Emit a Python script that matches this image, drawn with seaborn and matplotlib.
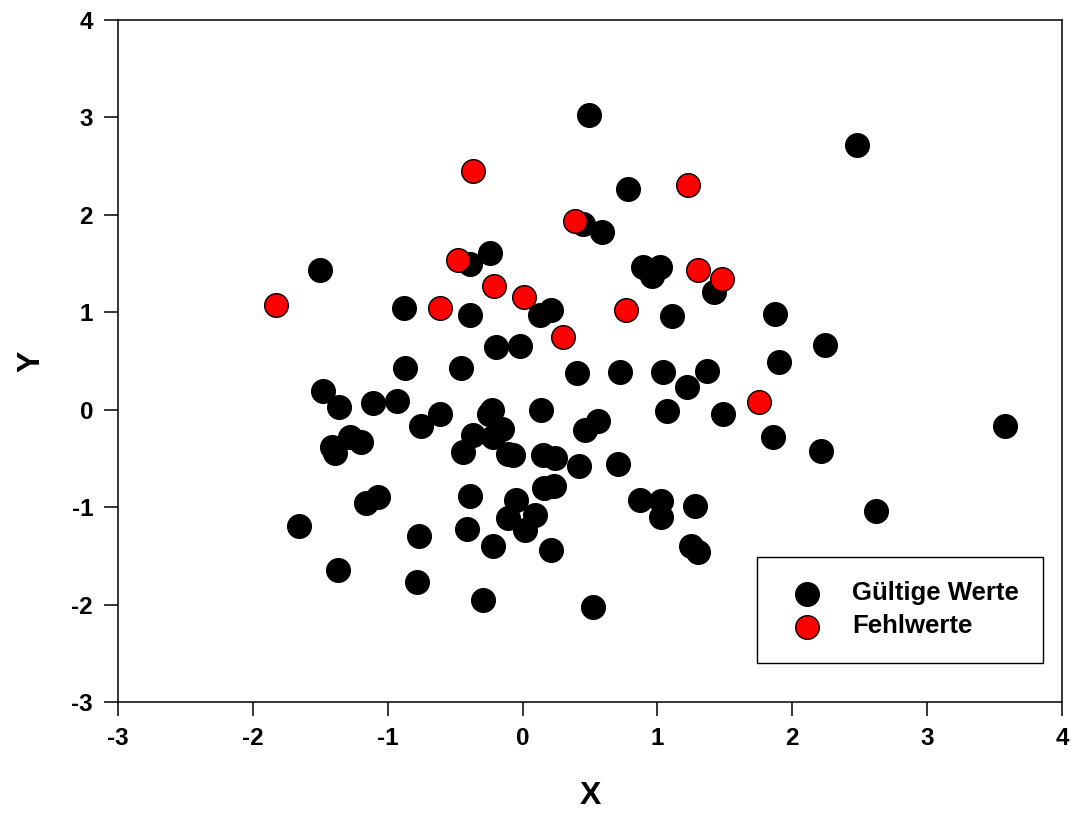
import pandas as pd
import matplotlib
matplotlib.use("Agg")
import matplotlib.pyplot as plt
import seaborn as sns

# valid values (black)
valid_x = [0.49, 2.48, 0.78, 0.45, 0.59, -0.24, -0.39, -1.50, 0.89, 1.02,
           0.96, 1.42, -0.88, -0.39, 0.13, 0.21, 1.11, 1.87, -0.20, -0.02,
           2.24, -0.87, -0.46, 0.40, 0.72, 1.04, 1.37, 1.90, 1.22, -1.48,
           -1.36, -1.11, -0.93, -0.61, -0.75, -0.25, -0.23, 0.14, 1.07, 1.49,
           0.56, 0.46, 3.58, -0.37, -0.15, -0.22, -1.41, -1.39, -1.28, -1.20,
           -0.44, -0.11, -0.07, 0.15, 0.24, 0.42, 0.71, 1.86, 2.21, 0.16,
           0.23, -1.16, -1.07, -0.39, -0.05, 0.87, 1.03, 1.28, 1.03, 0.09,
           -0.11, 2.62, -1.66, -0.41, 0.02, -0.77, -0.22, 0.21, 1.25, 1.30,
           -1.37, -0.78, -0.29, 0.52]
valid_y = [3.03, 2.72, 2.27, 1.91, 1.82, 1.61, 1.50, 1.43, 1.47, 1.47,
           1.37, 1.21, 1.04, 0.97, 0.97, 1.02, 0.96, 0.98, 0.64, 0.65,
           0.66, 0.43, 0.43, 0.38, 0.39, 0.39, 0.40, 0.49, 0.23, 0.19,
           0.03, 0.07, 0.09, -0.04, -0.17, -0.04, 0.00, 0.00, -0.01, -0.04,
           -0.12, -0.21, -0.17, -0.26, -0.20, -0.28, -0.38, -0.44, -0.28, -0.33,
           -0.43, -0.45, -0.46, -0.46, -0.50, -0.58, -0.56, -0.28, -0.42, -0.80,
           -0.78, -0.96, -0.90, -0.89, -0.93, -0.93, -0.94, -0.99, -1.10, -1.08,
           -1.11, -1.04, -1.19, -1.22, -1.23, -1.30, -1.40, -1.44, -1.40, -1.46,
           -1.65, -1.77, -1.95, -2.02]

# missing values (red)
missing_x = [-0.37, 1.23, 0.39, -0.48, -1.83, -0.21, 1.30, 1.48, -0.61, 0.01,
             0.77, 0.30, 1.75]
missing_y = [2.45, 2.31, 1.94, 1.54, 1.07, 1.27, 1.43, 1.34, 1.04, 1.16,
             1.02, 0.75, 0.08]

x_ticks = [-3, -2, -1, 0, 1, 2, 3, 4]
y_ticks = [-3, -2, -1, 0, 1, 2, 3, 4]

valid = pd.DataFrame({"X": valid_x, "Y": valid_y})
missing = pd.DataFrame({"X": missing_x, "Y": missing_y})

sns.set_style("ticks")
plt.rcParams["font.family"] = ["Liberation Sans", "DejaVu Sans"]
plt.rcParams["font.weight"] = "bold"
plt.rcParams["text.color"] = "black"
plt.rcParams["axes.labelcolor"] = "black"
plt.rcParams["xtick.color"] = "black"
plt.rcParams["ytick.color"] = "black"

fig = plt.figure(figsize=(10.73, 8.13), dpi=100)
ax = fig.add_axes([0.110, 0.1365, 0.8797, 0.8389])

sns.scatterplot(data=valid, x="X", y="Y", ax=ax, color="black",
                edgecolor="black", linewidth=1, s=290, label="Gültige Werte",
                zorder=3)
sns.scatterplot(data=missing, x="X", y="Y", ax=ax, color="red",
                edgecolor="black", linewidth=1, s=290, label="Fehlwerte",
                zorder=4)

ax.set_xlim(-3, 4)
ax.set_ylim(-3, 4)
ax.set_xticks(x_ticks)
ax.set_yticks(y_ticks)
ax.set_xticklabels([str(t) for t in x_ticks])
ax.set_yticklabels([str(t) for t in y_ticks])
ax.tick_params(direction="out", length=10, width=1.1, labelsize=17.5,
               colors="black", labelcolor="black", pad=8)
for sp in ax.spines.values():
    sp.set_visible(True)
    sp.set_linewidth(1.1)
    sp.set_color("black")

ax.set_xlabel("X", fontsize=23, fontweight="bold", labelpad=22, color="black")
ax.set_ylabel("Y", fontsize=23, fontweight="bold", labelpad=18, color="black")

leg = ax.legend(loc="upper left", bbox_to_anchor=(0.677, 0.2126),
                borderaxespad=0, fontsize=18.5, frameon=True, fancybox=False,
                framealpha=1, edgecolor="black", borderpad=0.95,
                handlelength=2.0, handletextpad=0.75, labelspacing=0.35,
                markerscale=1.0)
leg.get_frame().set_linewidth(1.0)
for t in leg.get_texts():
    t.set_fontweight("bold")
    t.set_color("black")

fig.savefig("out.png", dpi=100)
